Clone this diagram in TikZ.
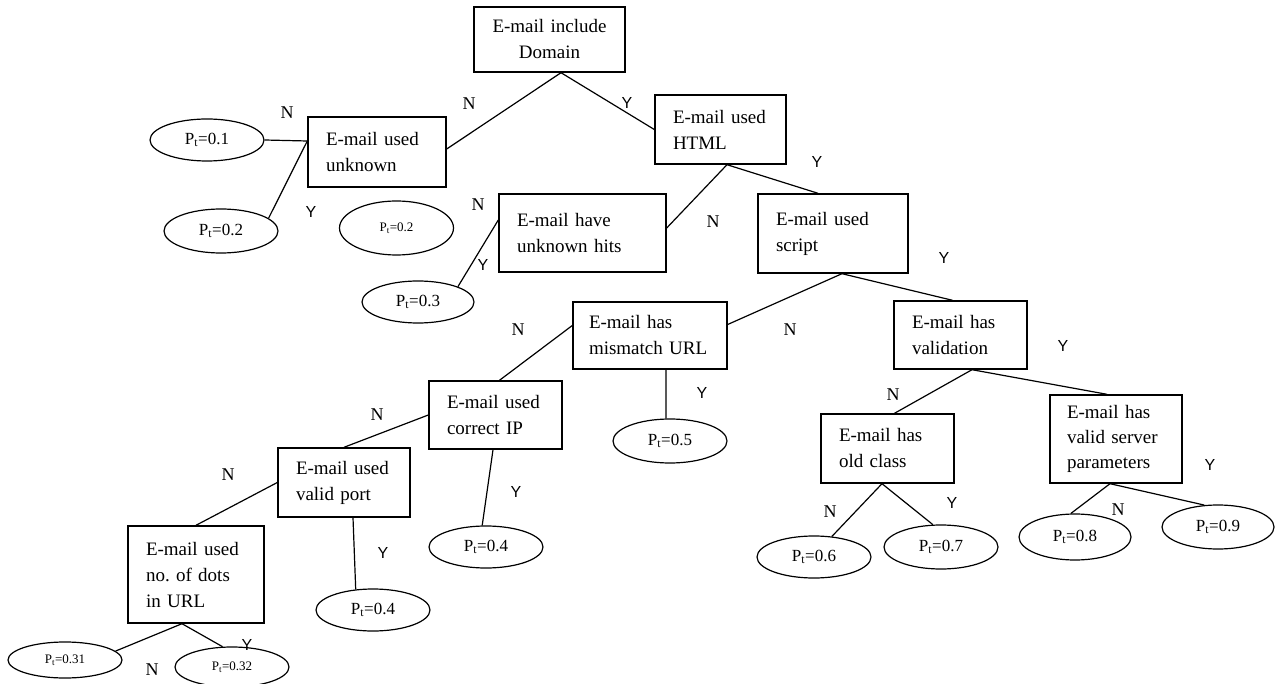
\documentclass[tikz,border=0pt]{standalone}
\usepackage{fontspec}
\setmainfont{Liberation Serif}
\newfontfamily\ysans{Liberation Sans}
\usetikzlibrary{shapes.geometric}
\newcommand\probt{P\textsubscript{t}}
\frenchspacing
\begin{document}
\begin{tikzpicture}[x=1pt,y=-1pt,
 box/.style={draw,line width=1.4pt,inner xsep=18pt,inner ysep=0pt,align=left,font=\fontsize{19}{26}\selectfont},
 leaf/.style={draw,ellipse,line width=1.2pt,inner sep=0pt,font=\fontsize{17}{20}\selectfont},
 smallleaf/.style={leaf,font=\fontsize{13}{16}\selectfont},
 edge/.style={line width=1.2pt},
 nlab/.style={font=\fontsize{18}{20}\selectfont,inner sep=0pt},
 ylab/.style={font=\ysans\fontsize{16}{18}\selectfont,inner sep=0pt}
]
\fill[white] (0,0) rectangle (1282,684);
\useasboundingbox (0,0) rectangle (1282,684);

% decision boxes
\node[box,align=center,text width=115pt,minimum height=65pt] (root) at (549.5,39.5) {E-mail include\\Domain};
\node[box,text width=102pt,minimum height=70pt] (unk) at (377,152) {E-mail used\\unknown};
\node[box,text width=131pt,minimum height=78pt] (hits) at (582.5,233) {E-mail have\\unknown hits};
\node[box,text width=95pt,minimum height=69pt] (html) at (720.5,129.5) {E-mail used\\HTML};
\node[box,text width=114pt,minimum height=79pt] (script) at (833,233.5) {E-mail used\\script};
\node[box,inner xsep=16pt,text width=122pt,minimum height=67pt] (mis) at (650,335.5) {E-mail has\\mismatch URL};
\node[box,text width=97pt,minimum height=68pt] (ip) at (495.5,415) {E-mail used\\correct IP};
\node[box,text width=96pt,minimum height=69pt] (port) at (344,482.5) {E-mail used\\valid port};
\node[box,text width=100pt,minimum height=97pt] (dots) at (196,574.5) {E-mail used\\no. of dots\\in URL};
\node[box,text width=97pt,minimum height=68pt] (valid) at (960.5,335) {E-mail has\\validation};
\node[box,text width=97pt,minimum height=69pt] (old) at (887.5,448.5) {E-mail has\\old class};
\node[box,inner xsep=17pt,font=\fontsize{19}{25}\selectfont,text width=98pt,minimum height=88pt] (server) at (1116,439) {E-mail has\\valid server\\parameters};

% leaves
\node[leaf,minimum width=114pt,minimum height=42pt] (p01) at (207,140) {\probt=0.1};
\node[leaf,minimum width=114pt,minimum height=44pt] (p02) at (221,231) {\probt=0.2};
\node[smallleaf,minimum width=114pt,minimum height=54pt] (p02m) at (396.5,228) {\probt=0.2};
\node[leaf,minimum width=112pt,minimum height=42pt] (p03) at (418,302) {\probt=0.3};
\node[leaf,minimum width=114pt,minimum height=44pt] (p05) at (670,441) {\probt=0.5};
\node[leaf,minimum width=114pt,minimum height=42pt] (p04a) at (486,547) {\probt=0.4};
\node[leaf,minimum width=114pt,minimum height=42pt] (p04b) at (373,610) {\probt=0.4};
\node[smallleaf,minimum width=114pt,minimum height=36pt] (p031) at (65,660) {\probt=0.31};
\node[smallleaf,minimum width=114pt,minimum height=40pt] (p032) at (232,667) {\probt=0.32};
\node[leaf,minimum width=114pt,minimum height=42pt] (p06) at (814,557) {\probt=0.6};
\node[leaf,minimum width=114pt,minimum height=44pt] (p07) at (941,547) {\probt=0.7};
\node[leaf,minimum width=112pt,minimum height=46pt] (p08) at (1075,537) {\probt=0.8};
\node[leaf,minimum width=112pt,minimum height=44pt] (p09) at (1218,527) {\probt=0.9};

% connectors
\draw[edge] ([xshift=11.5pt]root.south) -- ([yshift=3pt]unk.east);
\draw[edge] ([xshift=11.5pt]root.south) -- (html.west);
\draw[edge] ([yshift=11pt]unk.west) -- (p01.east);
\draw[edge] ([yshift=11pt]unk.west) -- (p02.15);
\draw[edge] ([xshift=6.5pt]html.south) -- ([yshift=5pt]hits.east);
\draw[edge] ([xshift=6.5pt]html.south) -- ([xshift=-15pt]script.north);
\draw[edge] ([yshift=13pt]hits.west) -- (p03.21);
\draw[edge] ([xshift=9pt]script.south) -- ([yshift=11pt]mis.east);
\draw[edge] ([xshift=9pt]script.south) -- ([xshift=-8pt]valid.north);
\draw[edge] ([yshift=10pt]mis.west) -- ([xshift=4pt]ip.north);
\draw[edge] ([xshift=16pt]mis.south) -- (p05.100);
\draw[edge] (ip.west) -- (port.north);
\draw[edge] ([xshift=-2.5pt]ip.south) -- (p04a.100);
\draw[edge] (port.west) -- (dots.north);
\draw[edge] ([xshift=9pt]port.south) -- (p04b.130);
\draw[edge] ([xshift=-14pt]dots.south) -- (p031.10);
\draw[edge] ([xshift=-14pt]dots.south) -- (p032.115);
\draw[edge] ([xshift=11.5pt]valid.south) -- ([xshift=7pt]old.north);
\draw[edge] ([xshift=11.5pt]valid.south) -- ([xshift=-9pt]server.north);
\draw[edge] ([xshift=-5.5pt]old.south) -- (p06.49);
\draw[edge] ([xshift=-5.5pt]old.south) -- (p07.110);
\draw[edge] ([xshift=-6pt]server.south) -- (p08.100);
\draw[edge] ([xshift=-6pt]server.south) -- (p09.122);

% branch labels
\node[nlab] (l1) at (469,104) {N};
\node[ylab] (l2) at (627,103) {Y};
\node[nlab] (l3) at (287,113) {N};
\node[ylab] (l4) at (311,212) {Y};
\node[nlab] (l5) at (478,205) {N};
\node[ylab] (l6) at (483,265) {Y};
\node[ylab] (l7) at (817,162) {Y};
\node[nlab] (l8) at (713,222) {N};
\node[ylab] (l9) at (944,258) {Y};
\node[nlab] (l10) at (518,330) {N};
\node[nlab] (l11) at (790,330) {N};
\node[ylab] (l12) at (702,393) {Y};
\node[nlab] (l13) at (377,415) {N};
\node[ylab] (l14) at (516,492) {Y};
\node[nlab] (l15) at (228,475) {N};
\node[ylab] (l16) at (383,553) {Y};
\node[ylab] (l17) at (247,645) {Y};
\node[nlab] (l18) at (152,670) {N};
\node[ylab] (l19) at (1063,346) {Y};
\node[nlab] (l20) at (893,395) {N};
\node[nlab] (l21) at (830,512) {N};
\node[ylab] (l22) at (952,503) {Y};
\node[nlab] (l23) at (1118,510) {N};
\node[ylab] (l24) at (1210,465) {Y};
\end{tikzpicture}
\end{document}
